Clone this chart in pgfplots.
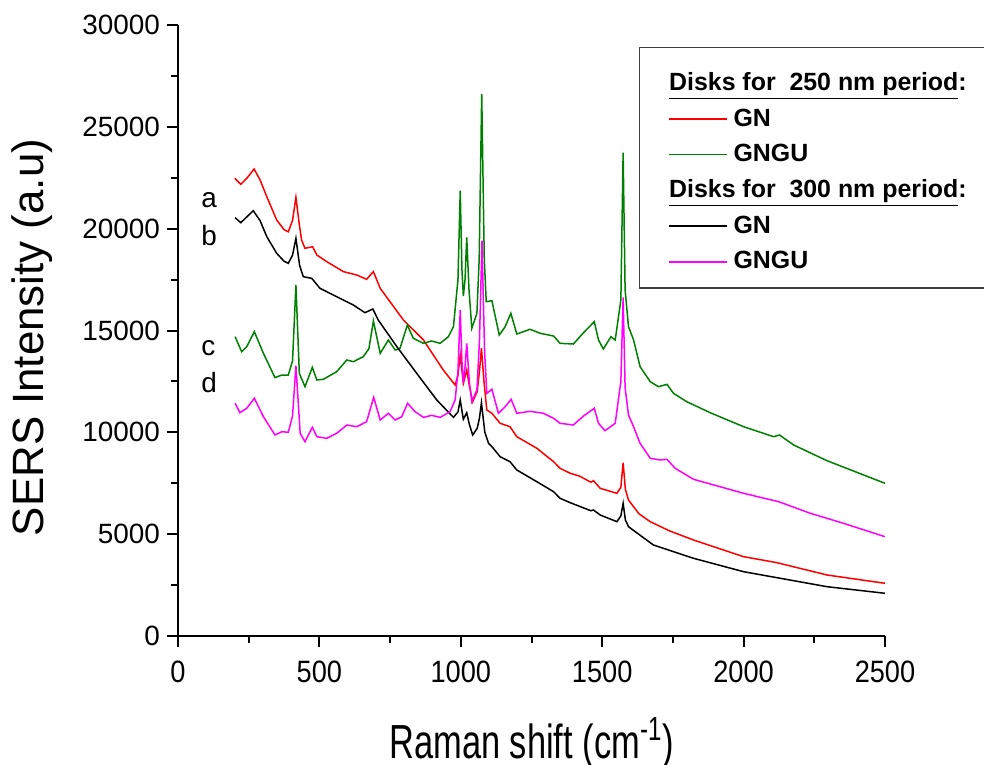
\documentclass[border=0pt]{standalone}
\usepackage{pgfplots}
\pgfplotsset{compat=1.18}
\usepackage{fontspec}
\setmainfont{Liberation Sans}
\definecolor{cgreen}{RGB}{0,128,0}
\definecolor{cmag}{RGB}{255,0,255}

\begin{document}
\begin{tikzpicture}
\begin{axis}[
  scale only axis, width=353.5bp, height=305.5bp,
  xmin=0, xmax=2500, ymin=0, ymax=30000,
  axis lines=left,
  axis line style={-, line width=1.1bp},
  xtick={0,500,...,2500}, ytick={0,5000,...,30000},
  minor x tick num=1, minor y tick num=1,
  tick align=outside, major tick length=5.5bp, minor tick length=3.5bp,
  every tick/.style={line width=1bp, black},
  scaled ticks=false,
  /pgf/number format/assume math mode=true,
  /pgf/number format/1000 sep={},
  xticklabel style={font=\fontsize{15.5}{17}\selectfont, xscale=0.88, yshift=-3.5bp},
  yticklabel style={font=\fontsize{14}{16}\selectfont},
  xlabel={Raman shift (cm\textsuperscript{-1})},
  xlabel style={font=\fontsize{24}{28}\selectfont, xscale=0.72, at={(axis description cs:0.5,0)}, anchor=base, yshift=-61bp},
  ylabel={SERS Intensity (a.u)},
  ylabel style={font=\fontsize{22}{26}\selectfont, at={(axis description cs:-0.2065,0.4885)}, anchor=center},
  legend style={at={(0.652,0.964)}, anchor=north west, draw=black!75, line width=0.6bp,
    inner xsep=14.5bp, inner ysep=6bp, font=\fontsize{12.5}{14}\selectfont\bfseries,
    cells={anchor=west}, row sep=3.6bp, column sep=1bp},
  every axis plot/.append style={line width=0.75bp},
]
\coordinate (O) at (rel axis cs:0,0);

\addlegendimage{legend image code/.code={}}
\addlegendimage{legend image code/.code={\draw[red, line width=0.8bp] (0bp,0bp) -- (28.7bp,0bp);}}
\addlegendimage{legend image code/.code={\draw[cgreen, line width=0.8bp] (0bp,0bp) -- (28.7bp,0bp);}}
\addlegendimage{legend image code/.code={}}
\addlegendimage{legend image code/.code={\draw[black, line width=0.8bp] (0bp,0bp) -- (28.7bp,0bp);}}
\addlegendimage{legend image code/.code={\draw[cmag, line width=0.8bp] (0bp,0bp) -- (28.7bp,0bp);}}

\addplot[red, forget plot] coordinates {
(201,22473) (222,22178) (245,22500) (269,22930) (290,22400) (314,21570) (349,20425)
(375,19950) (390,19850) (405,20400) (417,21540) (428,20300) (437,19444) (449,19036)
(476,19115) (491,18707) (526,18380) (585,17890) (632,17725) (667,17514) (691,17890)
(715,17072) (797,15516) (868,14534) (938,13061) (980,12324) (990,12800) (998,13797)
(1009,12407) (1021,13061) (1030,12300) (1042,11504) (1058,12000) (1066,13000) (1073,14126)
(1082,12500) (1092,11097) (1110,10935) (1139,10444) (1174,10276) (1198,9786) (1269,9216)
(1328,8558) (1351,8234) (1387,7989) (1420,7850) (1460,7550) (1469,7627) (1493,7251)
(1552,7006) (1566,7300) (1574,8510) (1582,7200) (1593,6678) (1630,6000) (1670,5612)
(1740,5150) (1823,4714) (2000,3895) (2118,3600) (2295,2995) (2500,2588)
};

\addplot[cgreen, forget plot] coordinates {
(202,14696) (225,13959) (243,14205) (270,14941) (302,13880) (343,12683) (367,12815)
(390,12815) (405,13500) (417,17234) (429,12899) (449,12241) (475,13193) (491,12570)
(514,12604) (561,12977) (597,13552) (620,13469) (655,13714) (675,14100) (691,15467)
(715,13880) (744,14534) (768,14043) (785,14124) (811,15270) (832,14617) (868,14371)
(897,14485) (927,14371) (956,14696) (974,15187) (990,17500) (998,21864) (1004,18000)
(1009,16694) (1015,17500) (1021,19576) (1029,17000) (1039,15108) (1057,15844) (1065,18500)
(1074,26612) (1083,18500) (1090,16414) (1110,16463) (1136,14779) (1157,15187) (1177,15844)
(1198,14828) (1245,15059) (1281,14862) (1328,14730) (1351,14371) (1398,14337) (1434,14892)
(1472,15432) (1487,14534) (1504,14092) (1531,14696) (1546,14534) (1566,16500) (1574,23730)
(1581,17000) (1593,15187) (1611,14534) (1634,13223) (1670,12486) (1699,12241) (1729,12358)
(1752,11917) (1799,11504) (1882,10964) (2000,10276) (2106,9786) (2127,9869) (2177,9378)
(2295,8607) (2500,7497)
};

\addplot[black, forget plot] coordinates {
(202,20540) (222,20293) (245,20600) (266,20883) (290,20400) (314,19607) (349,18790)
(375,18400) (390,18300) (405,18700) (417,19526) (430,18200) (443,17642) (473,17561)
(502,17072) (561,16660) (620,16252) (661,15874) (689,16056) (708,15516) (774,14205)
(844,12899) (915,11588) (974,10735) (990,11000) (998,11588) (1009,10640) (1021,10964)
(1030,10400) (1042,9869) (1058,10200) (1066,10700) (1073,11455) (1085,10000) (1098,9460)
(1110,9296) (1139,8804) (1174,8558) (1198,8151) (1269,7576) (1328,7085) (1351,6761)
(1387,6545) (1460,6150) (1469,6187) (1493,5941) (1552,5612) (1566,5900) (1574,6515)
(1582,5700) (1593,5367) (1681,4468) (1823,3815) (2000,3157) (2130,2833) (2295,2421)
(2500,2097)
};

\addplot[cmag, forget plot] coordinates {
(202,11426) (219,10964) (243,11180) (270,11671) (302,10768) (343,9869) (367,10031)
(390,10002) (405,10800) (417,13272) (432,9953) (449,9540) (475,10247) (491,9786)
(526,9707) (561,9953) (597,10360) (632,10276) (667,10522) (692,11720) (715,10606)
(744,10935) (768,10606) (791,10768) (812,11426) (838,11018) (868,10735) (897,10834)
(927,10735) (962,11013) (980,11588) (990,13000) (998,16007) (1004,13500) (1009,12407)
(1015,13200) (1021,14371) (1030,12500) (1039,11504) (1057,12079) (1066,14500) (1075,19410)
(1084,14000) (1092,11917) (1110,12113) (1133,10935) (1157,11259) (1178,11622) (1198,10935)
(1245,11033) (1292,10935) (1328,10689) (1351,10444) (1398,10360) (1434,10802) (1472,11180)
(1487,10444) (1510,10080) (1546,10444) (1566,12500) (1574,16630) (1581,12200) (1593,10851)
(1611,10276) (1634,9460) (1670,8725) (1705,8642) (1729,8676) (1758,8234) (1823,7694)
(2000,7006) (2124,6594) (2236,6025) (2353,5534) (2500,4876)
};

\legend{{\rule{0pt}{13.5bp}\hspace*{-32.2bp}\underline{Disks for\ \ 250 nm period}:},GN,GNGU,{\hspace*{-32.2bp}\underline{Disks for\ \ 300 nm period}:},GN,GNGU}

\node[font=\fontsize{14}{16}\selectfont, anchor=base west] at (axis cs:58,21015) {a};
\node[font=\fontsize{14}{16}\selectfont, anchor=base west] at (axis cs:58,19198) {b};
\node[font=\fontsize{14}{16}\selectfont, anchor=base west] at (axis cs:58,13797) {c};
\node[font=\fontsize{14}{16}\selectfont, anchor=base west] at (axis cs:58,11980) {d};
\end{axis}
\pgfresetboundingbox
\path[use as bounding box] (O) ++(-89bp,-64.5bp) rectangle ++(492bp,382.5bp);
\end{tikzpicture}
\end{document}
